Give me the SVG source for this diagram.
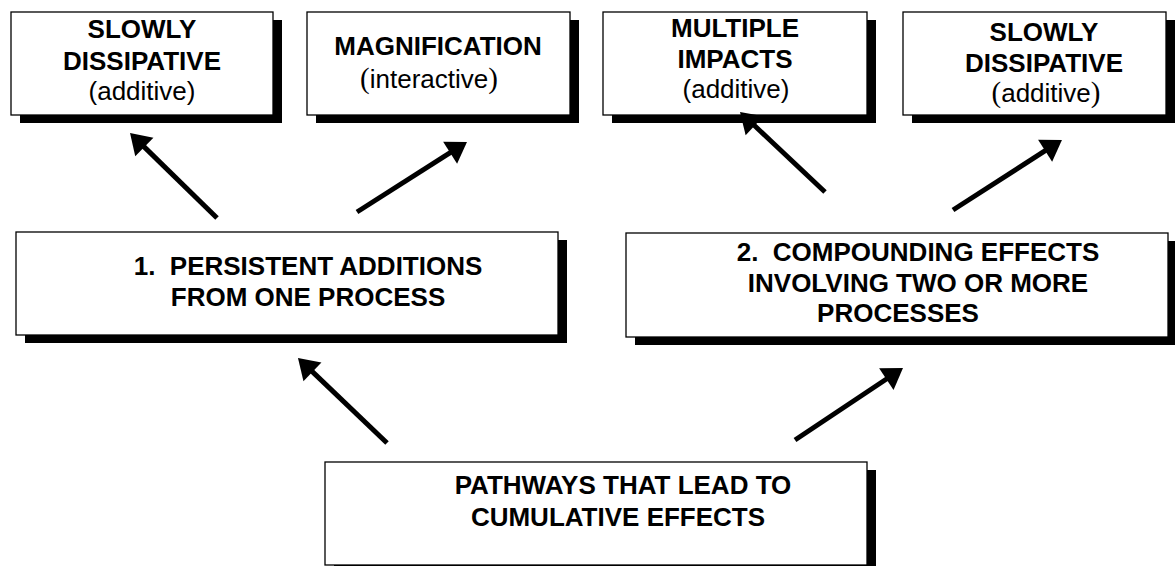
<svg xmlns="http://www.w3.org/2000/svg" width="1175" height="566" viewBox="0 0 1175 566">
<style>
.sh{fill:#000}
.bx{fill:#fff;stroke:#000;stroke-width:1.3}
.b{font-family:"Liberation Sans",Arial,sans-serif;font-weight:bold;font-size:26px;text-anchor:middle;fill:#000}
.r{font-family:"Liberation Sans",Arial,sans-serif;font-weight:normal;font-size:26px;text-anchor:middle;fill:#000}
.p{font-family:"Liberation Serif","Times New Roman",serif;font-size:29px}
.cn line{stroke:#000;stroke-width:5;fill:none;marker-end:url(#ah)}
</style>
<defs>
<marker id="ah" markerUnits="userSpaceOnUse" markerWidth="24" markerHeight="30" viewBox="0 -15 22 30" refX="2" refY="0" orient="auto">
<path d="M0,-13 L20,0 L0,13 Z" fill="#000"/>
</marker>
</defs>
<rect width="1175" height="566" fill="#fff"/>
<g id="n1">
<rect class="sh" x="20" y="20" width="262" height="103"/>
<rect class="bx" x="11" y="12" width="262" height="103"/>
<text class="b" x="142" y="38">SLOWLY</text>
<text class="b" x="142" y="70">DISSIPATIVE</text>
<text class="r" x="142" y="100">(additive)</text>
</g>
<g id="n2">
<rect class="sh" x="316" y="20" width="263" height="103"/>
<rect class="bx" x="307" y="12" width="263" height="103"/>
<text class="b" x="438" y="55">MAGNIFICATION</text>
<text class="r" x="429" y="88"><tspan class="p">(</tspan>interactive<tspan class="p">)</tspan></text>
</g>
<g id="n3">
<rect class="sh" x="612" y="20" width="264" height="103"/>
<rect class="bx" x="603" y="12" width="264" height="103"/>
<text class="b" x="735" y="37">MULTIPLE</text>
<text class="b" x="735" y="68">IMPACTS</text>
<text class="r" x="736" y="98">(additive)</text>
</g>
<g id="n4">
<rect class="sh" x="912" y="20" width="263" height="103"/>
<rect class="bx" x="903" y="12" width="263" height="103"/>
<text class="b" x="1044" y="41">SLOWLY</text>
<text class="b" x="1044" y="72">DISSIPATIVE</text>
<text class="r" x="1046" y="102"><tspan class="p">(</tspan>additive<tspan class="p">)</tspan></text>
</g>
<g id="n5">
<rect class="sh" x="25" y="240" width="542" height="103"/>
<rect class="bx" x="16" y="232" width="542" height="103"/>
<text class="b" x="308" y="275" xml:space="preserve">1.  PERSISTENT ADDITIONS</text>
<text class="b" x="308" y="306">FROM ONE PROCESS</text>
</g>
<g id="n6">
<rect class="sh" x="635" y="241" width="542" height="104"/>
<rect class="bx" x="626" y="233" width="542" height="104"/>
<text class="b" x="918" y="261" xml:space="preserve">2.  COMPOUNDING EFFECTS</text>
<text class="b" x="918" y="292">INVOLVING TWO OR MORE</text>
<text class="b" x="898" y="322">PROCESSES</text>
</g>
<g id="n7">
<rect class="sh" x="334" y="470" width="542" height="103"/>
<rect class="bx" x="325" y="462" width="542" height="103"/>
<text class="b" x="623" y="494">PATHWAYS THAT LEAD TO</text>
<text class="b" x="618" y="526">CUMULATIVE EFFECTS</text>
</g>
<g id="connectors" class="cn">
<line x1="217" y1="218" x2="142.9" y2="145.6"/>
<line x1="357" y1="212" x2="451.8" y2="151.7"/>
<line x1="825" y1="192" x2="753.1" y2="124.3"/>
<line x1="953" y1="210" x2="1046.8" y2="149.7"/>
<line x1="387" y1="443" x2="311" y2="370.4"/>
<line x1="795" y1="440" x2="888" y2="378"/>
</g>
</svg>
